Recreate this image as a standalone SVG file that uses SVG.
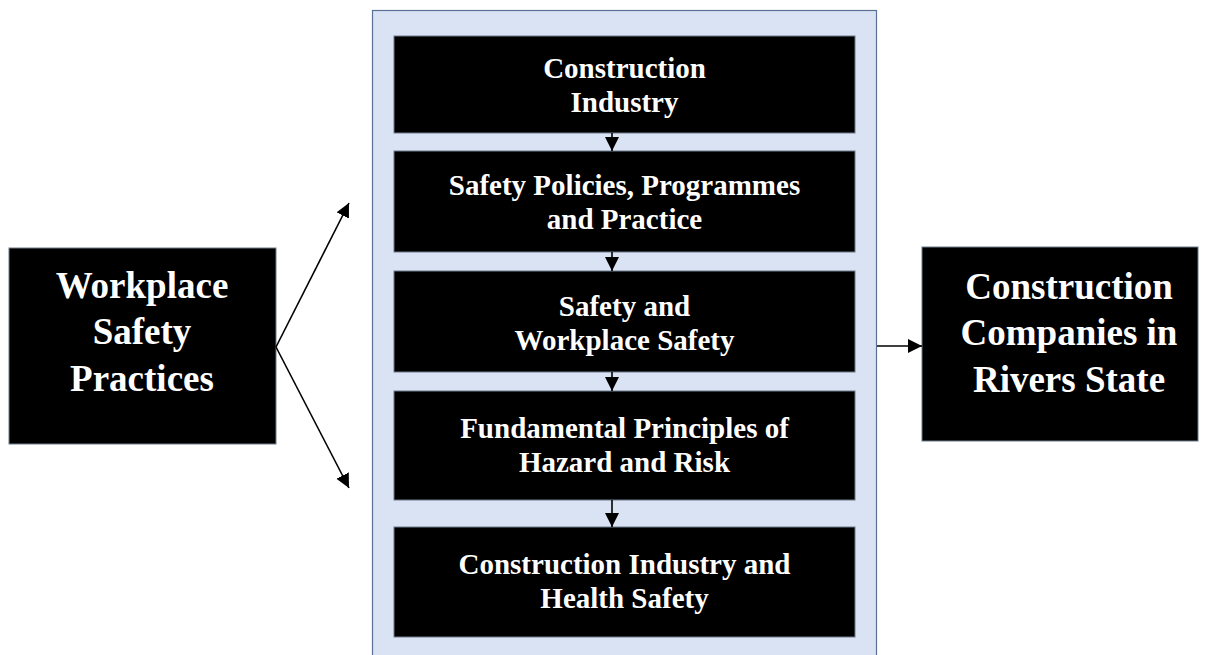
<svg xmlns="http://www.w3.org/2000/svg" width="1208" height="655" viewBox="0 0 1208 655">
<style>
.box{fill:#000;stroke:#6f7a8a;stroke-width:1}
.t{font-family:"Liberation Serif","Times New Roman",serif;font-weight:bold;fill:#fff;text-anchor:middle}
.s{font-size:29px}
.l{font-size:37px}
.c{stroke:#000;stroke-width:1.6;fill:none;marker-end:url(#ah)}
</style>
<defs>
<marker id="ah" markerUnits="userSpaceOnUse" markerWidth="16" markerHeight="16" refX="14" refY="7" orient="auto">
<path d="M0,0 L14,7 L0,14 Z" fill="#000"/>
</marker>
</defs>
<g id="container">
<rect x="372.5" y="10.5" width="504" height="660" fill="#dae3f3" stroke="#5b7096" stroke-width="1.2"/>
</g>
<g id="n-workplace">
<rect class="box" x="9" y="248" width="267" height="196"/>
<text class="t l" x="142" y="298">Workplace</text>
<text class="t l" x="142" y="344">Safety</text>
<text class="t l" x="142" y="391">Practices</text>
</g>
<g id="n-companies">
<rect class="box" x="922" y="247" width="276" height="194"/>
<text class="t l" x="1069" y="299">Construction</text>
<text class="t l" x="1069" y="345">Companies in</text>
<text class="t l" x="1069" y="392">Rivers State</text>
</g>
<g id="n1">
<rect class="box" x="394" y="36" width="461" height="97"/>
<text class="t s" x="624.5" y="78">Construction</text>
<text class="t s" x="624.5" y="112">Industry</text>
</g>
<g id="n2">
<rect class="box" x="394" y="151" width="461" height="101"/>
<text class="t s" x="624.5" y="195">Safety Policies, Programmes</text>
<text class="t s" x="624.5" y="229">and Practice</text>
</g>
<g id="n3">
<rect class="box" x="394" y="271" width="461" height="101"/>
<text class="t s" x="624.5" y="316">Safety and</text>
<text class="t s" x="624.5" y="350">Workplace Safety</text>
</g>
<g id="n4">
<rect class="box" x="394" y="391" width="461" height="109"/>
<text class="t s" x="624.5" y="438">Fundamental Principles of</text>
<text class="t s" x="624.5" y="472">Hazard and Risk</text>
</g>
<g id="n5">
<rect class="box" x="394" y="527" width="461" height="110"/>
<text class="t s" x="624.5" y="574">Construction Industry and</text>
<text class="t s" x="624.5" y="608">Health Safety</text>
</g>
<g id="connectors">
<line class="c" x1="612" y1="133" x2="612" y2="151"/>
<line class="c" x1="612" y1="252" x2="612" y2="271"/>
<line class="c" x1="612" y1="372" x2="612" y2="391"/>
<line class="c" x1="612" y1="500" x2="612" y2="527"/>
<line class="c" x1="877" y1="346" x2="922" y2="346"/>
<line class="c" x1="276" y1="347" x2="349" y2="203"/>
<line class="c" x1="276" y1="347" x2="349" y2="488"/>
</g>
</svg>
